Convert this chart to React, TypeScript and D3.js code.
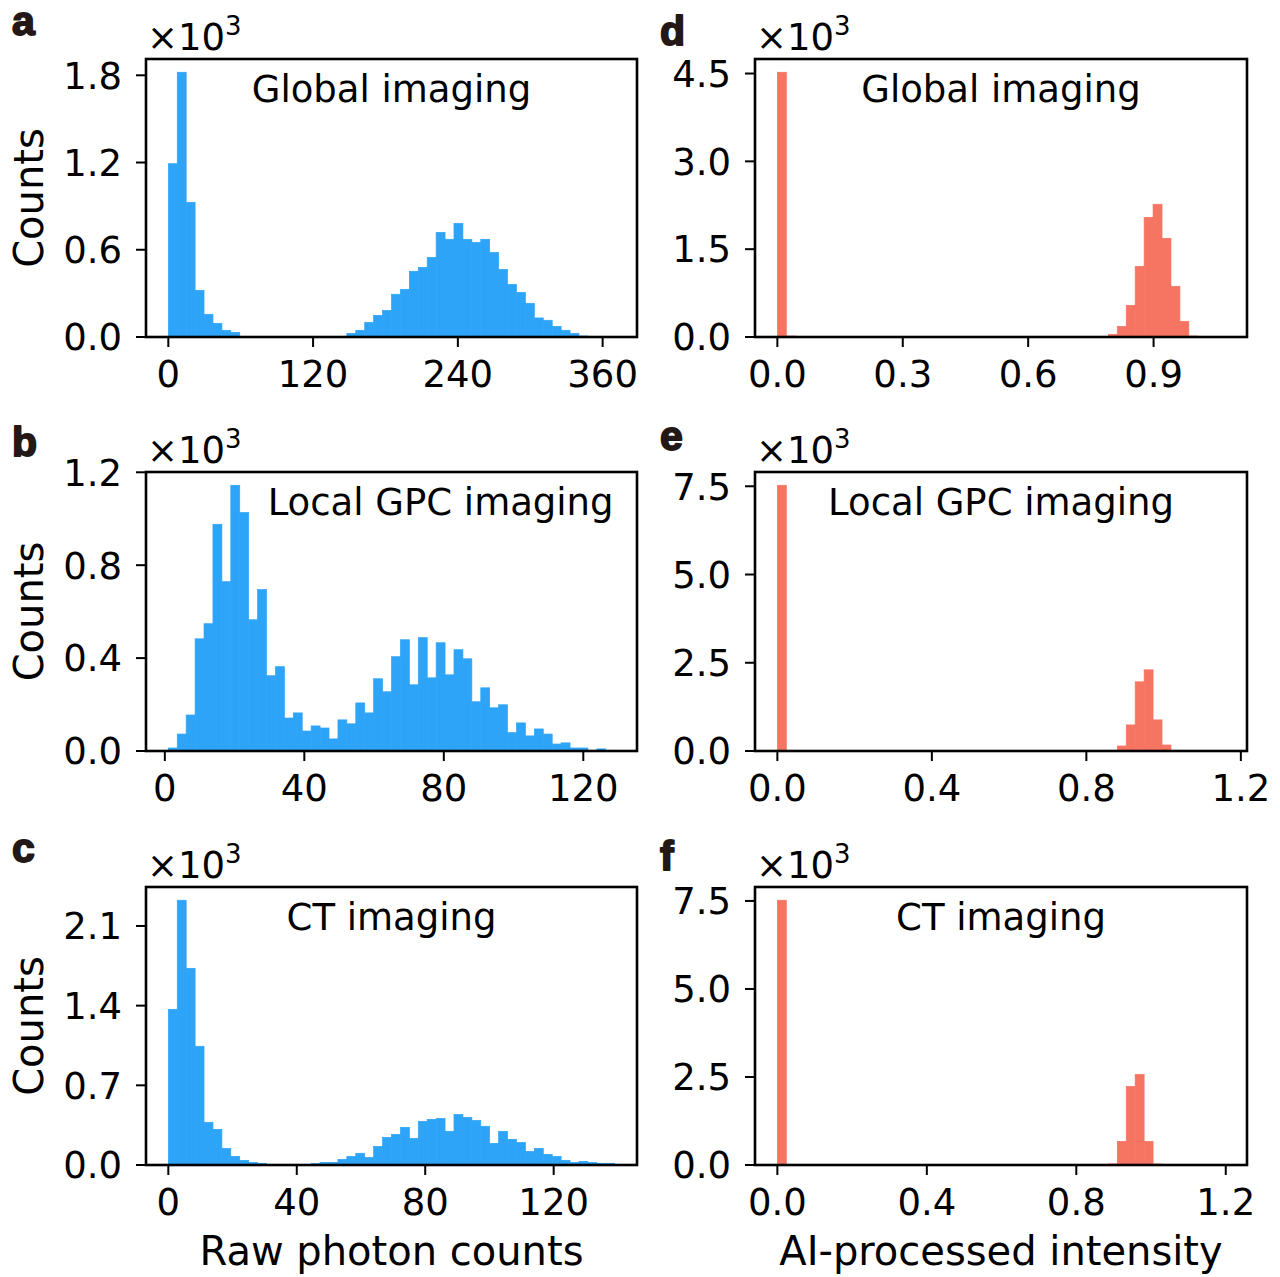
import React from 'react';
import * as d3 from 'd3';

// ---- Data (counts in thousands, 50 bins per histogram) ----
const countsA = [1.192,1.821,0.926,0.321,0.156,0.094,0.046,0.032,0.004,0.001,
  0,0,0,0,0,0,0,0,0,0.001,
  0.025,0.046,0.101,0.149,0.183,0.294,0.328,0.452,0.479,0.548,
  0.720,0.672,0.782,0.672,0.651,0.672,0.582,0.465,0.362,0.307,
  0.232,0.131,0.115,0.073,0.046,0.025,0.007,0.002,0.001,0.001];
const countsB = [0.013,0.073,0.155,0.483,0.548,0.976,0.729,1.144,1.027,0.565,
  0.695,0.324,0.363,0.142,0.164,0.086,0.108,0.099,0.052,0.134,
  0.117,0.207,0.164,0.311,0.255,0.406,0.479,0.285,0.488,0.315,
  0.466,0.328,0.436,0.397,0.212,0.272,0.186,0.199,0.079,0.121,
  0.065,0.095,0.073,0.030,0.035,0.013,0.013,0.003,0.009,0.003];
const countsC = [1.368,2.326,1.728,1.043,0.375,0.313,0.146,0.076,0.041,0.023,
  0.015,0.004,0.002,0.001,0.002,0.004,0.012,0.023,0.023,0.050,
  0.076,0.103,0.067,0.164,0.243,0.269,0.331,0.234,0.384,0.401,
  0.410,0.296,0.445,0.419,0.392,0.340,0.190,0.296,0.226,0.199,
  0.120,0.146,0.094,0.076,0.041,0.023,0.032,0.023,0.015,0.015];
const countsD = [4.522,0.017,0,0,0,0,0,0,0,0,
  0,0,0,0,0,0,0,0,0,0,
  0,0,0,0,0,0,0,0,0,0,
  0,0,0,0,0,0,0,0.046,0.182,0.541,
  1.207,2.044,2.267,1.686,0.866,0.268,0.017,0.003,0,0.001];
const countsE = [7.528,0,0,0,0,0,0,0,0,0,
  0,0,0,0,0,0,0,0,0,0,
  0,0,0,0,0,0,0,0,0,0,
  0,0,0,0,0,0,0,0.020,0.142,0.739,
  1.960,2.300,0.881,0.170,0.020,0,0,0,0,0];
const countsF = [7.520,0,0,0,0,0,0,0,0,0,
  0,0,0,0,0,0,0,0,0,0,
  0,0,0,0,0,0,0,0,0,0,
  0,0,0,0,0,0,0,0.030,0.672,2.235,
  2.576,0.672,0.030,0,0,0,0,0,0,0];

// data ranges (min, max of the binned values)
const rangeA = [0, 370];
const rangeB = [1, 129];
const rangeC = [0, 139];
const rangeD = [0, 1.07];
const rangeE = [0, 1.158];
const rangeF = [0, 1.197];

const xTicksA = [0, 120, 240, 360];
const xTicksB = [0, 40, 80, 120];
const xTicksC = [0, 40, 80, 120];
const xTicksD = [0, 0.3, 0.6, 0.9];
const xTicksE = [0, 0.4, 0.8, 1.2];
const xTicksF = [0, 0.4, 0.8, 1.2];

const yTicksA = [0, 0.6, 1.2, 1.8];
const yTicksB = [0, 0.4, 0.8, 1.2];
const yTicksC = [0, 0.7, 1.4, 2.1];
const yTicksD = [0, 1.5, 3.0, 4.5];
const yTicksE = [0, 2.5, 5.0, 7.5];
const yTicksF = [0, 2.5, 5.0, 7.5];

const letters = ['a', 'b', 'c', 'd', 'e', 'f'];
const titles = ['Global imaging', 'Local GPC imaging', 'CT imaging', 'Global imaging', 'Local GPC imaging', 'CT imaging'];
const xLabels = ['Raw photon counts', 'AI-processed intensity'];

const BLUE = '#2ea4f8';
const RED = '#f67462';
const FONT = "'DejaVu Sans', sans-serif";
const FS = 37;
const LFS = 40;

const COLS = [[146, 637], [755, 1247]];
const ROWS = [[59, 337], [472, 751], [887, 1165]];

type PanelDef = {
  letter: string; title: string; titleFrac: number; counts: number[]; range: number[];
  xTicks: number[]; yTicks: number[]; xDec: number; color: string;
  col: number; row: number; letterPos: [number, number]; xLabel?: string; yLabel?: boolean;
};

const panels: PanelDef[] = [
  { letter: letters[0], title: titles[0], titleFrac: 0.5, counts: countsA, range: rangeA, xTicks: xTicksA, yTicks: yTicksA, xDec: 0, color: BLUE, col: 0, row: 0, letterPos: [12, 35], yLabel: true },
  { letter: letters[1], title: titles[1], titleFrac: 0.6, counts: countsB, range: rangeB, xTicks: xTicksB, yTicks: yTicksB, xDec: 0, color: BLUE, col: 0, row: 1, letterPos: [12, 456], yLabel: true },
  { letter: letters[2], title: titles[2], titleFrac: 0.5, counts: countsC, range: rangeC, xTicks: xTicksC, yTicks: yTicksC, xDec: 0, color: BLUE, col: 0, row: 2, letterPos: [12, 862], yLabel: true, xLabel: xLabels[0] },
  { letter: letters[3], title: titles[3], titleFrac: 0.5, counts: countsD, range: rangeD, xTicks: xTicksD, yTicks: yTicksD, xDec: 1, color: RED, col: 1, row: 0, letterPos: [660, 45] },
  { letter: letters[4], title: titles[4], titleFrac: 0.5, counts: countsE, range: rangeE, xTicks: xTicksE, yTicks: yTicksE, xDec: 1, color: RED, col: 1, row: 1, letterPos: [660, 450] },
  { letter: letters[5], title: titles[5], titleFrac: 0.5, counts: countsF, range: rangeF, xTicks: xTicksF, yTicks: yTicksF, xDec: 1, color: RED, col: 1, row: 2, letterPos: [660, 870], xLabel: xLabels[1] },
];

function Panel({ p }: { p: PanelDef }) {
  const [x0, x1] = COLS[p.col];
  const [y0, y1] = ROWS[p.row];
  const [lo, hi] = p.range;
  const span = hi - lo;
  const n = p.counts.length;
  const x = d3.scaleLinear().domain([lo - 0.05 * span, hi + 0.05 * span]).range([x0, x1]);
  const y = d3.scaleLinear().domain([0, 1.05 * (d3.max(p.counts) as number)]).range([y1, y0]);
  const edge = (i: number) => lo + (i * span) / n;
  const fmtX = d3.format(p.xDec ? '.1f' : 'd');
  const fmtY = d3.format('.1f');
  const TL = 10;
  return (
    <g>
      {p.counts.map((c, i) =>
        c > 0 ? (
          <rect key={i} x={x(edge(i))} width={x(edge(i + 1)) - x(edge(i))} y={y(c)} height={y(0) - y(c)}
            fill={p.color} stroke={p.color} strokeWidth={0.7} />
        ) : null
      )}
      <rect x={x0} y={y0} width={x1 - x0} height={y1 - y0} fill="none" stroke="#000" strokeWidth={2.6} />
      {p.xTicks.map((t) => (
        <g key={'x' + t}>
          <line x1={x(t)} x2={x(t)} y1={y1} y2={y1 + TL} stroke="#000" strokeWidth={2} />
          <text x={x(t)} y={y1 + 50} textAnchor="middle" fontSize={FS} fontFamily={FONT}>{fmtX(t)}</text>
        </g>
      ))}
      {p.yTicks.map((t) => (
        <g key={'y' + t}>
          <line x1={x0 - TL} x2={x0} y1={y(t)} y2={y(t)} stroke="#000" strokeWidth={2} />
          <text x={x0 - 24} y={y(t)} dy="0.36em" textAnchor="end" fontSize={FS} fontFamily={FONT}>{fmtY(t)}</text>
        </g>
      ))}
      <text x={x0 + (x1 - x0) * p.titleFrac} y={y0 + 43} textAnchor="middle" fontSize={FS} fontFamily={FONT}>{p.title}</text>
      <text x={x0 + 1} y={y0 - 9} fontSize={FS} fontFamily={FONT}>
        ×10<tspan fontSize={26} dy={-15}>3</tspan>
      </text>
      <text x={p.letterPos[0]} y={p.letterPos[1]} fontSize={41} fontWeight="bold" fontFamily="'Liberation Sans', Arial, sans-serif"
        fill="#231815" stroke="#231815" strokeWidth={1.8} strokeLinejoin="round">{p.letter}</text>
      {p.yLabel ? (
        <text transform={`translate(43,${(y0 + y1) / 2}) rotate(-90)`} textAnchor="middle" fontSize={LFS} fontFamily={FONT}>Counts</text>
      ) : null}
      {p.xLabel ? (
        <text x={(x0 + x1) / 2} y={y1 + 100} textAnchor="middle" fontSize={LFS} fontFamily={FONT}>{p.xLabel}</text>
      ) : null}
    </g>
  );
}

export default function App() {
  return (
    <div style={{ position: 'absolute', left: 0, top: 0 }}>
      <svg width={1280} height={1277} viewBox="0 0 1280 1277" style={{ display: 'block', background: '#fff' }}>
        <rect x={0} y={0} width={1280} height={1277} fill="#fff" />
        {panels.map((p, i) => <Panel key={i} p={p} />)}
      </svg>
    </div>
  );
}
